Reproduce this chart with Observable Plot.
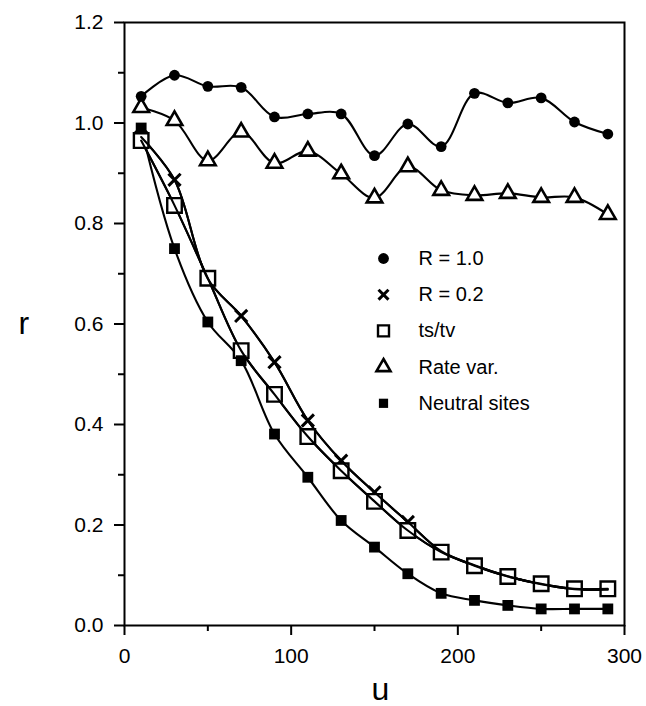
<!DOCTYPE html>
<html>
<head>
<meta charset="utf-8">
<script src="https://cdn.jsdelivr.net/npm/d3@7"></script>
<script src="https://cdn.jsdelivr.net/npm/@observablehq/plot@0.6"></script>
<style>
  html, body { margin: 0; padding: 0; background: white; }
  svg { display: block; }
</style>
</head>
<body>
<div id="chart"></div>
<script>
// ---- data ----
const u = [10, 30, 50, 70, 90, 110, 130, 150, 170, 190, 210, 230, 250, 270, 290];
const rR10    = [1.053, 1.095, 1.073, 1.071, 1.012, 1.018, 1.018, 0.935, 0.998, 0.953, 1.059, 1.040, 1.050, 1.002, 0.978];
const rR02    = [0.972, 0.887, 0.690, 0.616, 0.524, 0.408, 0.328, 0.265, 0.206, 0.148, 0.120, 0.098, 0.082, 0.072, 0.071];
const rTsTv   = [0.965, 0.836, 0.691, 0.547, 0.460, 0.376, 0.308, 0.247, 0.189, 0.146, 0.119, 0.0975, 0.083, 0.073, 0.073];
const rRate   = [1.031, 1.005, 0.925, 0.982, 0.920, 0.944, 0.899, 0.851, 0.913, 0.866, 0.856, 0.860, 0.852, 0.852, 0.818];
const rNeutral= [0.990, 0.750, 0.604, 0.527, 0.381, 0.295, 0.209, 0.156, 0.103, 0.064, 0.050, 0.040, 0.033, 0.033, 0.033];

const seriesNames = ["R = 1.0", "R = 0.2", "ts/tv", "Rate var.", "Neutral sites"];
const seriesValues = [rR10, rR02, rTsTv, rRate, rNeutral];

const xMajorTicks = [0, 100, 200, 300];
const xMinorTicks = [50, 150, 250];
const yMajorTicks = [0, 0.2, 0.4, 0.6, 0.8, 1.0, 1.2];
const yMinorTicks = [0.1, 0.3, 0.5, 0.7, 0.9, 1.1];

// ---- styles per series (not data) ----
const styles = [
  {symbol: "circle",   r: 5.4, lr: 5.4, fill: "black", stroke: "none",  strokeWidth: 0},
  {symbol: "times",    r: 5.6, lr: 4.6, fill: "none",  stroke: "black", strokeWidth: 3},
  {symbol: "square",   r: 8.2, lr: 6.2, fill: "white", stroke: "black", strokeWidth: 2.4},
  {symbol: "triangle", r: 5.8, lr: 5.2, fill: "white", stroke: "black", strokeWidth: 2.6},
  {symbol: "square",   r: 6.1, lr: 5.2, fill: "black", stroke: "none",  strokeWidth: 0}
];

const rows = seriesNames.map((name, s) => u.map((x, i) => ({series: name, s, u: x, r: seriesValues[s][i]})));

const marks = [];
const lineMark = data => Plot.line(data, {x: "u", y: "r", curve: "catmull-rom", stroke: "black", strokeWidth: 2.1});
const dotMark = (data, st) => Plot.dot(data, {x: "u", y: "r", symbol: () => st.symbol, r: st.r, fill: st.fill, stroke: st.stroke, strokeWidth: st.strokeWidth});

// lines, then crosses (partly covered by the squares), then open squares, then lines again through them
rows.forEach(data => marks.push(lineMark(data)));
marks.push(dotMark(rows[1], styles[1]));
marks.push(dotMark(rows[2], styles[2]));
marks.push(lineMark(rows[1]));
marks.push(lineMark(rows[2]));
marks.push(dotMark(rows[3], styles[3]));
marks.push(dotMark(rows[4], styles[4]));
marks.push(dotMark(rows[0], styles[0]));

// legend (inside the frame)
const legendDx = 259, legendDy0 = 236, legendStep = 36.2, legendTextDx = 294;
seriesNames.forEach((name, s) => {
  const st = styles[s];
  marks.push(Plot.dot([name], {frameAnchor: "top-left", dx: legendDx, dy: legendDy0 + s * legendStep,
    symbol: () => st.symbol, r: st.lr, fill: st.fill, stroke: st.stroke, strokeWidth: st.strokeWidth}));
  marks.push(Plot.text([name], {frameAnchor: "top-left", dx: legendTextDx, dy: legendDy0 + s * legendStep,
    text: d => d, textAnchor: "start", lineAnchor: "middle", fontSize: 20, fill: "black"}));
});

// axes
marks.push(Plot.axisX({ticks: xMajorTicks, tickSize: 10, tickPadding: 13, tickFormat: d => String(d), fontSize: 21, strokeWidth: 2, label: null}));
marks.push(Plot.axisX({ticks: xMinorTicks, tickSize: 6, tickFormat: () => "", strokeWidth: 2, label: null}));
marks.push(Plot.axisY({ticks: yMajorTicks, tickSize: 10, tickPadding: 11, tickFormat: d3.format(".1f"), fontSize: 21, strokeWidth: 2, label: null}));
marks.push(Plot.axisY({ticks: yMinorTicks, tickSize: 6, tickFormat: () => "", strokeWidth: 2, label: null}));
marks.push(Plot.frame({stroke: "black", strokeWidth: 2}));

// axis titles
marks.push(Plot.text(["r"], {frameAnchor: "left", dx: -106, text: d => d, fontSize: 32, lineAnchor: "middle", fill: "black"}));
marks.push(Plot.text(["u"], {frameAnchor: "bottom", dx: 6, dy: 64, text: d => d, fontSize: 32, lineAnchor: "middle", fill: "black"}));

const chart = Plot.plot({
  width: 646,
  height: 706,
  marginLeft: 124,
  marginRight: 22,
  marginTop: 22,
  marginBottom: 81,
  x: {domain: [0, 300]},
  y: {domain: [0, 1.2]},
  style: {fontFamily: "'Liberation Sans', Arial, Helvetica, sans-serif", background: "white", color: "black", overflow: "visible"},
  marks
});
document.getElementById("chart").appendChild(chart);
</script>
</body>
</html>
